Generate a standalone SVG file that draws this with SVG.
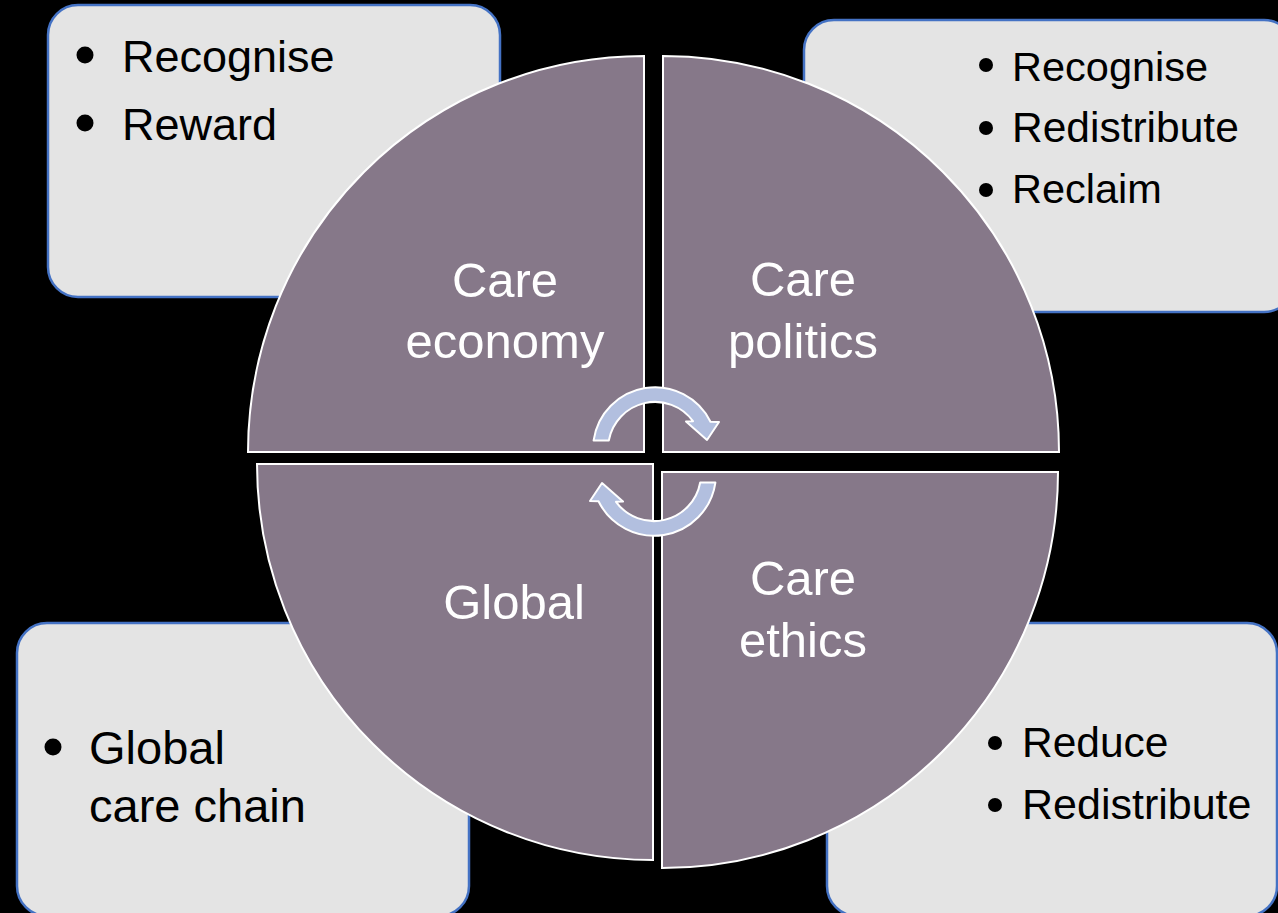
<svg xmlns="http://www.w3.org/2000/svg" width="1278" height="913" viewBox="0 0 1278 913">
<style>
.box{fill:#e4e4e4;stroke:#4472c4;stroke-width:2.5}
.btxt{font-family:"Liberation Sans",Arial,sans-serif;fill:#000}
.quad{fill:#867889;stroke:#ffffff;stroke-width:2}
.qtxt{font-family:"Liberation Sans",Arial,sans-serif;fill:#ffffff;font-size:49px;text-anchor:middle}
.arrow{fill:#b2bfdf;stroke:#ffffff;stroke-width:2;stroke-linejoin:round}
</style>
<rect width="1278" height="913" fill="#000000"/>
<g id="box-economy">
<rect class="box" x="48" y="5" width="452" height="292" rx="30"/>
<circle cx="85" cy="55" r="8.5"/>
<circle cx="85" cy="123" r="8.5"/>
<text class="btxt" x="122" y="72" font-size="45">Recognise</text>
<text class="btxt" x="122" y="140" font-size="45">Reward</text>
</g>
<g id="box-politics">
<rect class="box" x="804" y="20" width="490" height="292" rx="30"/>
<circle cx="986" cy="65" r="7"/>
<circle cx="986" cy="128" r="7"/>
<circle cx="986" cy="190" r="7"/>
<text class="btxt" x="1012" y="81" font-size="41.5">Recognise</text>
<text class="btxt" x="1012" y="142" font-size="42.5">Redistribute</text>
<text class="btxt" x="1012" y="203" font-size="41.5">Reclaim</text>
</g>
<g id="box-global">
<rect class="box" x="17" y="623" width="452" height="293" rx="30"/>
<circle cx="53" cy="747" r="8.5"/>
<text class="btxt" x="89" y="764" font-size="47">Global</text>
<text class="btxt" x="89" y="822" font-size="47">care chain</text>
</g>
<g id="box-ethics">
<rect class="box" x="827" y="623" width="450" height="293" rx="30"/>
<circle cx="995" cy="743" r="7"/>
<circle cx="995" cy="805" r="7"/>
<text class="btxt" x="1022" y="757" font-size="42.5">Reduce</text>
<text class="btxt" x="1022" y="819" font-size="43">Redistribute</text>
</g>
<g id="quad-economy">
<path class="quad" d="M644,452 L248,452 A396,396 0 0 1 644,56 Z"/>
<text class="qtxt" x="505" y="297">Care</text>
<text class="qtxt" x="505" y="358">economy</text>
</g>
<g id="quad-politics">
<path class="quad" d="M663,452 L663,56 A396,396 0 0 1 1059,452 Z"/>
<text class="qtxt" x="803" y="296">Care</text>
<text class="qtxt" x="803" y="358">politics</text>
</g>
<g id="quad-global">
<path class="quad" d="M653,464 L653,860 A396,396 0 0 1 257,464 Z"/>
<text class="qtxt" x="514" y="619">Global</text>
</g>
<g id="quad-ethics">
<path class="quad" d="M662,472 L1058,472 A396,396 0 0 1 662,868 Z"/>
<text class="qtxt" x="803" y="595">Care</text>
<text class="qtxt" x="803" y="657">ethics</text>
</g>
<g id="connectors">
<path id="arrow-top" class="arrow" d="M593.6,440.4 A62,62 0 0 1 710.5,421.7 L719,422 L707,440 L686,421.5 L693,421.2 A47,47 0 0 0 608.8,440.5 Z"/>
<path id="arrow-bottom" class="arrow" transform="rotate(180 654.5 461.5)" d="M593.6,440.4 A62,62 0 0 1 710.5,421.7 L719,422 L707,440 L686,421.5 L693,421.2 A47,47 0 0 0 608.8,440.5 Z"/>
</g>
</svg>
